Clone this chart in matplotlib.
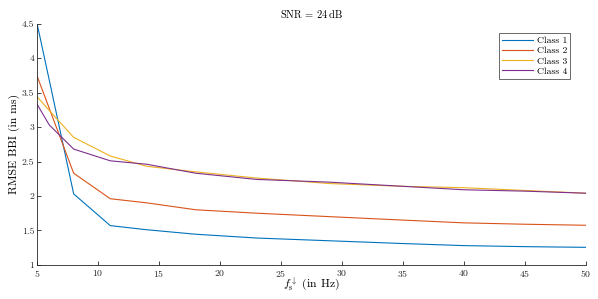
import matplotlib
matplotlib.use("Agg")
import matplotlib.pyplot as plt

fs = [5, 6, 8, 11, 14, 18, 23, 29, 35, 40, 45, 50]
class1 = [4.5, 3.68, 2.03, 1.57, 1.51, 1.445, 1.39, 1.35, 1.31, 1.28, 1.265, 1.255]
class2 = [3.74, 3.27, 2.33, 1.96, 1.90, 1.80, 1.75, 1.70, 1.65, 1.61, 1.59, 1.575]
class3 = [3.44, 3.24, 2.85, 2.58, 2.43, 2.35, 2.26, 2.18, 2.14, 2.12, 2.08, 2.04]
class4 = [3.33, 3.03, 2.68, 2.51, 2.46, 2.33, 2.24, 2.20, 2.14, 2.09, 2.07, 2.04]
labels = ["Class 1", "Class 2", "Class 3", "Class 4"]
colors = ["#0072BD", "#D95319", "#EDB120", "#7E2F8E"]

plt.rcParams["font.family"] = "serif"
plt.rcParams["font.serif"] = ["cmr10", "DejaVu Serif"]
plt.rcParams["mathtext.fontset"] = "cm"
plt.rcParams["axes.formatter.use_mathtext"] = True

fig = plt.figure(figsize=(5.98, 2.99), dpi=100)
ax = fig.add_axes([0.062, 0.114, 0.918, 0.807])

for y, lab, c in zip([class1, class2, class3, class4], labels, colors):
    ax.plot(fs, y, color=c, linewidth=0.8, label=lab)

ax.set_xlim(5, 50)
ax.set_ylim(1, 4.5)
ax.set_xticks([5, 10, 15, 20, 25, 30, 35, 40, 45, 50])
ax.set_yticks([1, 1.5, 2, 2.5, 3, 3.5, 4, 4.5])
ax.set_yticklabels(["1", "1.5", "2", "2.5", "3", "3.5", "4", "4.5"])
ax.tick_params(direction="in", length=3, width=0.6, labelsize=7, colors="#262626", pad=2)
ax.spines["top"].set_visible(False)
ax.spines["right"].set_visible(False)
ax.spines["left"].set_color("#262626")
ax.spines["bottom"].set_color("#262626")
ax.spines["left"].set_linewidth(0.6)
ax.spines["bottom"].set_linewidth(0.6)

ax.set_title(r"SNR = 24$\,$dB", fontsize=7.5, pad=4)
ax.set_xlabel(r"$f_{\mathrm{s}}^{\downarrow}$ (in Hz)", fontsize=8.5, labelpad=-2)
ax.set_ylabel("RMSE BBI (in ms)", fontsize=8.5, labelpad=1)

leg = ax.legend(loc="upper right", bbox_to_anchor=(0.98, 0.98), fontsize=7, frameon=True,
                fancybox=False, edgecolor="#262626", handlelength=3.2, borderpad=0.3,
                labelspacing=0.15, handletextpad=0.4)
leg.get_frame().set_linewidth(0.6)

plt.savefig("out.png", dpi=100)
